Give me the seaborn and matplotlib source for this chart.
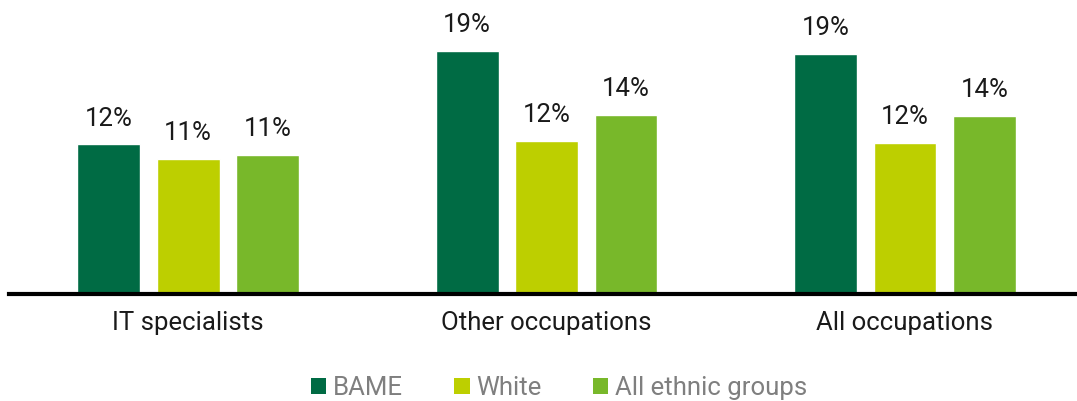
import matplotlib
matplotlib.use("Agg")
import matplotlib.pyplot as plt
import seaborn as sns
import pandas as pd
from matplotlib.patches import Patch

# Share of workers in each group (per cent)
occupations = ["IT specialists", "Other occupations", "All occupations"]
groups = ["BAME", "White", "All ethnic groups"]
bame = [11.7, 19.0, 18.8]
white = [10.6, 12.0, 11.8]
all_groups = [10.9, 14.0, 13.9]

colors = ["#006B44", "#BDCF00", "#78B82A"]

df = pd.DataFrame({
    "occupation": occupations * 3,
    "group": [groups[0]] * 3 + [groups[1]] * 3 + [groups[2]] * 3,
    "value": bame + white + all_groups,
})

sns.set_theme(style="white")
plt.rcParams["font.family"] = ["Roboto", "DejaVu Sans"]

fig = plt.figure(figsize=(10.77, 4.01), dpi=100)
ax = fig.add_axes([9 / 1077, (401 - 294) / 401, 1 - 9 / 1077, 294 / 401])

sns.barplot(data=df, x="occupation", y="value", hue="group", order=occupations,
            hue_order=groups, palette=colors, width=0.665, gap=0.21,
            saturation=1, errorbar=None, legend=False, ax=ax)

for container in ax.containers:
    ax.bar_label(container, labels=[f"{v:.0f}%" for v in container.datavalues],
                 padding=10, fontsize=18.5, color="#1a1a1a")

ax.set_xlim(-0.5, 2.48)
ax.set_ylim(0, 23.0)
ax.set_xlabel("")
ax.set_ylabel("")
ax.set_yticks([])
for s in ["top", "right", "left"]:
    ax.spines[s].set_visible(False)
ax.spines["bottom"].set_color("black")
ax.spines["bottom"].set_linewidth(3)
ax.tick_params(axis="x", length=0, pad=12, labelsize=18.5, labelcolor="#1a1a1a")

handles = [Patch(facecolor=c, edgecolor="none") for c in colors]
fig.legend(handles, groups, loc="center", bbox_to_anchor=(0.519, 0.032), ncol=3,
           frameon=False, fontsize=18.5, labelcolor="#7f7f7f", handlelength=0.6,
           handleheight=0.6, handletextpad=0.25, columnspacing=2.0)

fig.savefig("out.png", dpi=100)
